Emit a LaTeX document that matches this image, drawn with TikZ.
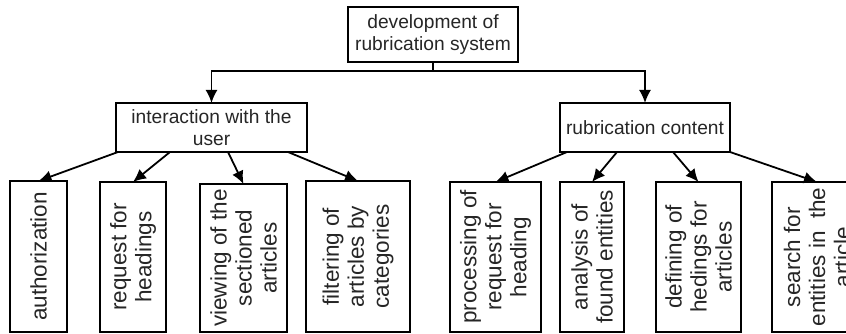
\documentclass[tikz,border=0pt]{standalone}
\usepackage{fontspec}
\setmainfont{Liberation Sans}
\usetikzlibrary{arrows.meta}
\begin{document}
\begin{tikzpicture}[x=1pt,y=-1pt,
  box/.style={draw=black,line width=1.6pt,fill=white,inner sep=0pt,outer sep=0pt},
  htext/.style={align=center,font=\fontsize{19.2}{21.5}\selectfont,text=black!85,inner sep=0pt},
  vtext/.style={rotate=90,align=center,font=\fontsize{22.5}{25}\selectfont,text=black!85,inner sep=0pt},
  arr/.style={line width=1.8pt,-{Latex[length=13pt,width=12pt]}},
  link/.style={line width=1.8pt}]
\useasboundingbox (0,0) rectangle (846,334);
\clip (0,0) rectangle (846,334);

% top level
\node[box,minimum width=170pt,minimum height=55pt] (top) at (433,34.5) {};
\node[htext] (topT) at (top) {development of\\rubrication system};

% second level
\node[box,minimum width=191pt,minimum height=49pt] (int) at (211.5,127.5) {};
\node[htext] (intT) at (int) {interaction with the\\user};
\node[box,minimum width=170pt,minimum height=49pt] (rub) at (645,127.5) {};
\node[htext] (rubT) at (rub) {rubrication content};

% leaves under "interaction with the user"
\node[box,minimum width=57pt,minimum height=151pt]  (auth) at (38.5,256.5) {};
\node[vtext] (authT) at (auth) {authorization};
\node[box,minimum width=66pt,minimum height=150pt]  (req) at (133,257) {};
\node[vtext] (reqT) at (req) {request for\\headings};
\node[box,minimum width=87pt,minimum height=148pt]  (view) at (243.5,258) {};
\node[vtext] (viewT) at (view) {viewing of the\\sectioned\\articles};
\node[box,minimum width=104pt,minimum height=151pt] (filt) at (358,256.5) {};
\node[vtext] (filtT) at (filt) {filtering of\\articles by\\categories};

% leaves under "rubrication content"
\node[box,minimum width=91pt,minimum height=150pt] (proc) at (495.5,257) {};
\node[vtext] (procT) at (proc) {processing of\\request for\\heading};
\node[box,minimum width=64pt,minimum height=150pt] (anal) at (592,257) {};
\node[vtext] (analT) at (anal) {analysis of\\found entities};
\node[box,minimum width=85pt,minimum height=150pt] (def) at (698.5,257) {};
\node[vtext] (defT) at (def) {defining of\\hedings for\\articles};
\node[box,minimum width=90pt,minimum height=150pt] (srch) at (817,257) {};
\node[vtext] (srchT) at (srch) {search for\\entities in~ the\\article};

% connectors from the root
\coordinate (hub) at ([yshift=-9pt]top.south);
\draw[link] (top.south) -- (hub);
\draw[arr] (hub) -| (int.north);
\draw[arr] (hub) -| (rub.north);

% connectors to the leaves
\draw[arr] ([xshift=2pt]int.south west)   -- (auth.north);
\draw[arr] ([xshift=54pt]int.south west)  -- (req.north);
\draw[arr] ([xshift=112pt]int.south west) -- (view.north);
\draw[arr] ([xshift=172pt]int.south west) -- (filt.north);

\draw[arr] ([xshift=7pt]rub.south west)   -- (proc.north);
\draw[arr] ([xshift=57pt]rub.south west)  -- (anal.north);
\draw[arr] ([xshift=113pt]rub.south west) -- (def.north);
\draw[arr] (rub.south east) -- (srch.north);
\end{tikzpicture}
\end{document}
